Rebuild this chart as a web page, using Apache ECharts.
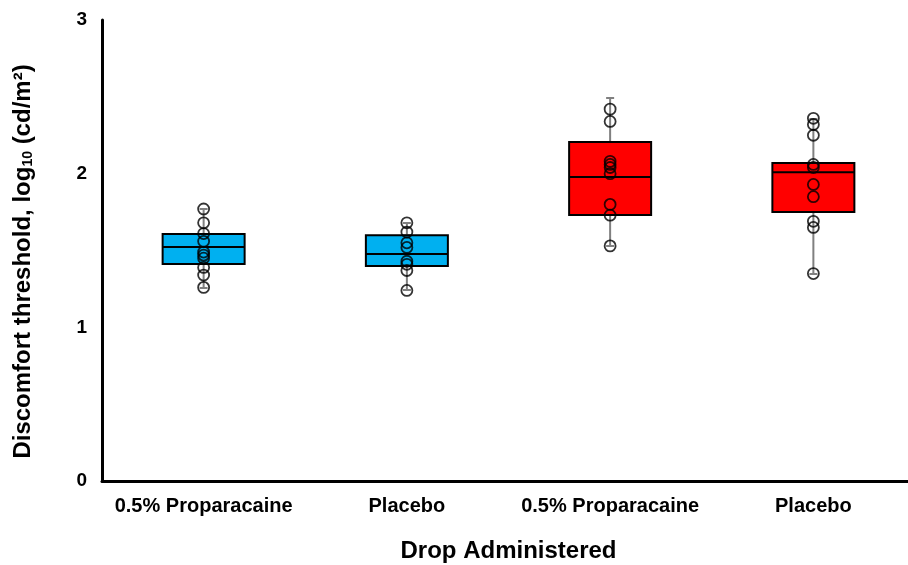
<!DOCTYPE html>
<html>
<head>
<meta charset="utf-8">
<script src="https://cdn.jsdelivr.net/npm/echarts@6/dist/echarts.min.js"></script>
<style>
  html, body { margin: 0; padding: 0; background: #fff; }
  #main { width: 908px; height: 565px; }
</style>
</head>
<body>
<div id="main"></div>
<script>
var categories = ['0.5% Proparacaine', 'Placebo', '0.5% Proparacaine', 'Placebo'];
var boxColors = ['#00B0F0', '#00B0F0', '#FF0000', '#FF0000'];

// box statistics per group
var whiskerLow  = [1.256, 1.243, 1.529, 1.347];
var q1          = [1.412, 1.399, 1.731, 1.750];
var median      = [1.522, 1.477, 1.978, 2.010];
var q3          = [1.607, 1.600, 2.206, 2.069];
var whiskerHigh = [1.770, 1.679, 2.492, 2.355];

// individual observations per group
var points1 = [1.77, 1.68, 1.61, 1.56, 1.49, 1.47, 1.45, 1.39, 1.34, 1.26];
var points2 = [1.68, 1.62, 1.55, 1.52, 1.43, 1.41, 1.37, 1.24];
var points3 = [2.42, 2.34, 2.08, 2.06, 2.04, 2.00, 1.80, 1.73, 1.53];
var points4 = [2.36, 2.32, 2.25, 2.06, 2.04, 1.93, 1.85, 1.69, 1.65, 1.35];
var groups = [points1, points2, points3, points4];

var yTicks = [0, 1, 2, 3];

var whiskerData = categories.map(function (c, i) {
  return [whiskerLow[i], q1[i], median[i], q3[i], whiskerHigh[i]];
});
var boxData = categories.map(function (c, i) {
  return {
    value: [q1[i], q1[i], median[i], q3[i], q3[i]],
    itemStyle: { color: boxColors[i] }
  };
});
var scatterData = [];
groups.forEach(function (g, i) {
  g.forEach(function (v) { scatterData.push([i, v]); });
});

var font = 'Liberation Sans, Arial, sans-serif';

var myChart = echarts.init(document.getElementById('main'));
myChart.setOption({
  animation: false,
  backgroundColor: '#fff',
  grid: { left: 102, top: 20, width: 813, bottom: 84, outerBoundsMode: 'none', containLabel: false },
  xAxis: [{
    type: 'category',
    data: categories,
    axisLine: { lineStyle: { color: '#000', width: 3 } },
    axisTick: { show: false },
    axisLabel: {
      interval: 0, hideOverlap: false,
      color: '#000', fontFamily: font, fontWeight: 'bold', fontSize: 20, margin: 15
    },
    name: 'Drop Administered',
    nameLocation: 'middle',
    nameGap: 58,
    nameTextStyle: { color: '#000', fontFamily: font, fontWeight: 'bold', fontSize: 24 }
  }, {
    type: 'category',
    data: categories,
    show: false
  }],
  yAxis: {
    type: 'value',
    min: 0,
    max: 3,
    interval: 1,
    splitLine: { show: false },
    axisLine: { show: true, lineStyle: { color: '#000', width: 3 } },
    axisTick: { show: false },
    axisLabel: {
      color: '#000', fontFamily: font, fontWeight: 'bold', fontSize: 19, margin: 15,
      formatter: function (v) { return yTicks.indexOf(v) >= 0 ? String(v) : ''; }
    },
    name: 'Discomfort threshold, log{sub|10} (cd/m²)',
    nameLocation: 'middle',
    nameGap: 67,
    nameTextStyle: {
      color: '#000', fontFamily: font, fontWeight: 'bold', fontSize: 24,
      padding: [0, 22, 0, 0],
      rich: {
        sub: { fontFamily: font, fontWeight: 'bold', fontSize: 14, verticalAlign: 'bottom', padding: [10, 0, 0, 0] }
      }
    }
  },
  series: [{
    type: 'boxplot',
    xAxisIndex: 0,
    boxWidth: [8, 8],
    data: whiskerData,
    z: 1,
    itemStyle: { color: 'rgba(0,0,0,0)', borderColor: '#808080', borderWidth: 2 }
  }, {
    type: 'boxplot',
    xAxisIndex: 1,
    boxWidth: [82, 82],
    data: boxData,
    z: 2,
    itemStyle: { borderColor: '#000', borderWidth: 2 }
  }, {
    type: 'scatter',
    xAxisIndex: 0,
    data: scatterData,
    symbol: 'circle',
    symbolSize: 11,
    z: 3,
    itemStyle: { color: 'rgba(0,0,0,0)', borderColor: '#000', borderWidth: 1.8 }
  }]
});
</script>
</body>
</html>
